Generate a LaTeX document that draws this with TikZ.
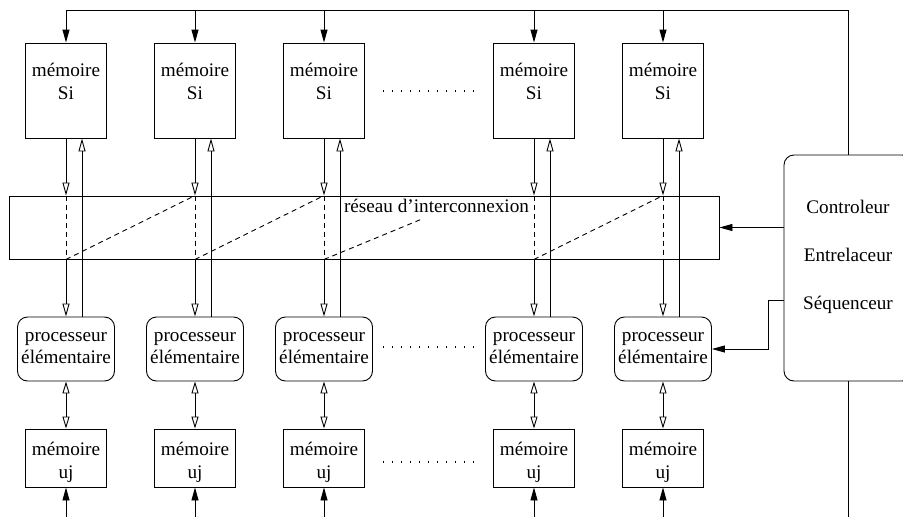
\documentclass[tikz,border=0pt]{standalone}
\usepackage{fontspec}
\setmainfont{Liberation Serif}
\usetikzlibrary{arrows.meta,calc}
\begin{document}
\begin{tikzpicture}[x=1pt,y=-1pt,
  line width=0.9pt,
  txt/.style={anchor=base, inner sep=0pt, font=\fontsize{19.2}{23}\selectfont},
  msbox/.style={draw, inner sep=0pt, minimum width=81pt, minimum height=95pt},
  mubox/.style={draw, inner sep=0pt, minimum width=81pt, minimum height=58pt},
  pebox/.style={draw, inner sep=0pt, rounded corners=10pt, minimum width=97pt, minimum height=64pt},
  opentip/.style={-{Triangle[open,length=13pt,width=7pt]}},
  filltip/.style={-{Triangle[length=13pt,width=7pt]}},
  dbl/.style={{Triangle[open,length=12pt,width=7pt]}-{Triangle[open,length=12pt,width=7pt]}},
  dsh/.style={dash pattern=on 5pt off 4pt},
  dotrow/.style={line width=1.4pt, dash pattern=on 1.4pt off 7.6pt}
]
\useasboundingbox (0,0) rectangle (903,517);
\coordinate (top) at (848,10);
\coordinate (cbot) at (848,517);
\node[draw, inner sep=0pt, minimum width=710pt, minimum height=63pt] (net) at (364,227.5) {};
\node[txt] (netlabel) at (436.5,212) {réseau d’interconnexion};
\node[draw, inner sep=0pt, rounded corners=10pt, minimum width=128pt, minimum height=226pt] (ctrl) at (848,268) {};
\node[txt] (c1) at (848,213) {Controleur};
\node[txt] (c2) at (848,261) {Entrelaceur};
\node[txt] (c3) at (848,309) {Séquenceur};
\foreach \i/\cx in {1/66,2/195,3/324,4/534,5/663}{
  \node[msbox] (ms\i) at (\cx,90.5) {};
  \node[txt] (msa\i) at (\cx,76) {mémoire};
  \node[txt] (msb\i) at (\cx,99) {Si};
  \node[pebox] (pe\i) at (\cx,349) {};
  \node[txt] (pea\i) at (\cx,341) {processeur};
  \node[txt] (peb\i) at (\cx,363) {élémentaire};
  \node[mubox] (mu\i) at (\cx,458) {};
  \node[txt] (mua\i) at (\cx,455) {mémoire};
  \node[txt] (mub\i) at (\cx,478) {uj};
  \coordinate (bot\i) at (\cx,517);
  \draw[filltip] (ms\i.north |- top) -- (ms\i.north);
  \draw[opentip] (ms\i.south) -- (ms\i.south |- net.north);
  \draw[dsh] (ms\i.south |- net.north) -- (ms\i.south |- net.south);
  \draw[opentip] (ms\i.south |- net.south) -- (pe\i.north);
  \draw[opentip] ($(pe\i.north)+(16,0)$) -- ($(ms\i.south)+(16,0)$);
  \draw[dbl] (pe\i.south) -- (mu\i.north);
  \draw[filltip] (bot\i) -- (mu\i.south);
}
\draw (ms1.north |- top) -- (top) -- (ctrl.north);
\draw (ctrl.south) -- (cbot);
% diagonals in the network
\coordinate (dend) at (422,219);
\draw[dsh] (ms1.south |- net.south) -- (ms2.south |- net.north);
\draw[dsh] (ms2.south |- net.south) -- (ms3.south |- net.north);
\draw[dsh] (ms3.south |- net.south) -- (dend);
\draw[dsh] (ms4.south |- net.south) -- (ms5.south |- net.north);
% controller links
\draw[filltip] (ctrl.west |- net.east) -- (net.east);
\coordinate (k) at (768,300);
\draw[filltip] (ctrl.west |- k) -- (k) |- (pe5.east);
% dots
\coordinate (d1a) at (383,91);  \coordinate (d1b) at (475,91);
\coordinate (d2a) at (383,347); \coordinate (d2b) at (475,347);
\coordinate (d3a) at (383,462); \coordinate (d3b) at (475,462);
\draw[dotrow] (d1a) -- (d1b);
\draw[dotrow] (d2a) -- (d2b);
\draw[dotrow] (d3a) -- (d3b);
\end{tikzpicture}
\end{document}
